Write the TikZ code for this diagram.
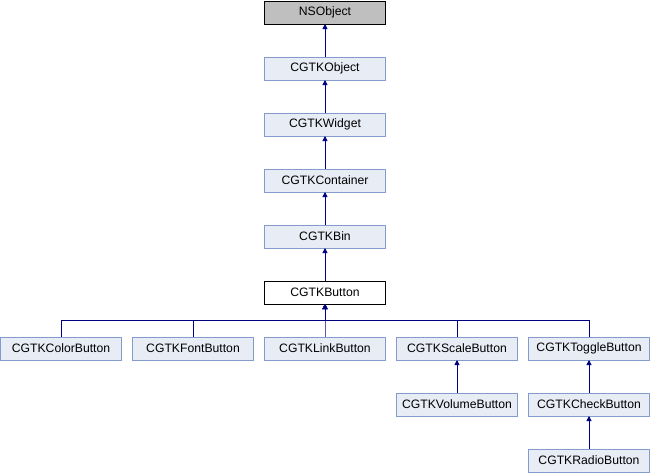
\documentclass[tikz,border=0pt]{standalone}
\usepackage{fontspec}
\setmainfont{Liberation Sans}
\usepackage{tikz}
\usetikzlibrary{arrows.meta, positioning}
\definecolor{classfill}{RGB}{232, 236, 245}
\definecolor{classborder}{RGB}{132, 155, 205}
\definecolor{rootfill}{RGB}{191, 191, 191}
\definecolor{inhblue}{RGB}{0, 0, 128}
\tikzset{every node/.style={font=\fontsize{12.2pt}{14pt}\selectfont}, every path/.style={line join=miter}, >={Triangle[length=5pt, width=5pt]}}
\tikzset{
    classbox/.style={draw=classborder, fill=classfill, line width=0.8pt, minimum width=121pt, minimum height=23pt, inner sep=0pt, outer sep=0pt},
    rootbox/.style={classbox, draw=black, fill=rootfill},
    curbox/.style={classbox, draw=black, fill=white},
    inh/.style={->, draw=inhblue, line width=0.9pt}
}

\begin{document}
\begin{tikzpicture}[node distance=33pt and 11pt]
    \useasboundingbox (0pt,0pt) rectangle (650pt,-472pt);
    % main chain
    \node [rootbox] (nsobject) at (325pt,-12.5pt) {NSObject};
    \node [classbox, below=of nsobject] (object) {CGTKObject};
    \node [classbox, below=of object] (widget) {CGTKWidget};
    \node [classbox, below=of widget] (container) {CGTKContainer};
    \node [classbox, below=of container] (bin) {CGTKBin};
    \node [curbox, below=of bin] (button) {CGTKButton};
    % subclasses of the button
    \node [classbox, below=of button] (linkbtn) {CGTKLinkButton};
    \node [classbox, left=of linkbtn] (fontbtn) {CGTKFontButton};
    \node [classbox, left=of fontbtn] (colorbtn) {CGTKColorButton};
    \node [classbox, right=of linkbtn] (scalebtn) {CGTKScaleButton};
    \node [classbox, right=of scalebtn] (togglebtn) {CGTKToggleButton};
    \node [classbox, below=of scalebtn] (volumebtn) {CGTKVolumeButton};
    \node [classbox, below=of togglebtn] (checkbtn) {CGTKCheckButton};
    \node [classbox, below=of checkbtn] (radiobtn) {CGTKRadioButton};

    \draw [inh] (object) -- (nsobject);
    \draw [inh] (widget) -- (object);
    \draw [inh] (container) -- (widget);
    \draw [inh] (bin) -- (container);
    \draw [inh] (button) -- (bin);
    \coordinate [below=16pt of button.south] (bus);
    \foreach \child in {colorbtn, fontbtn, linkbtn, scalebtn, togglebtn}
        \draw [inh] (\child.north) |- (bus) -- (button.south);
    \draw [inh] (volumebtn) -- (scalebtn);
    \draw [inh] (checkbtn) -- (togglebtn);
    \draw [inh] (radiobtn) -- (checkbtn);
\end{tikzpicture}
\end{document}
